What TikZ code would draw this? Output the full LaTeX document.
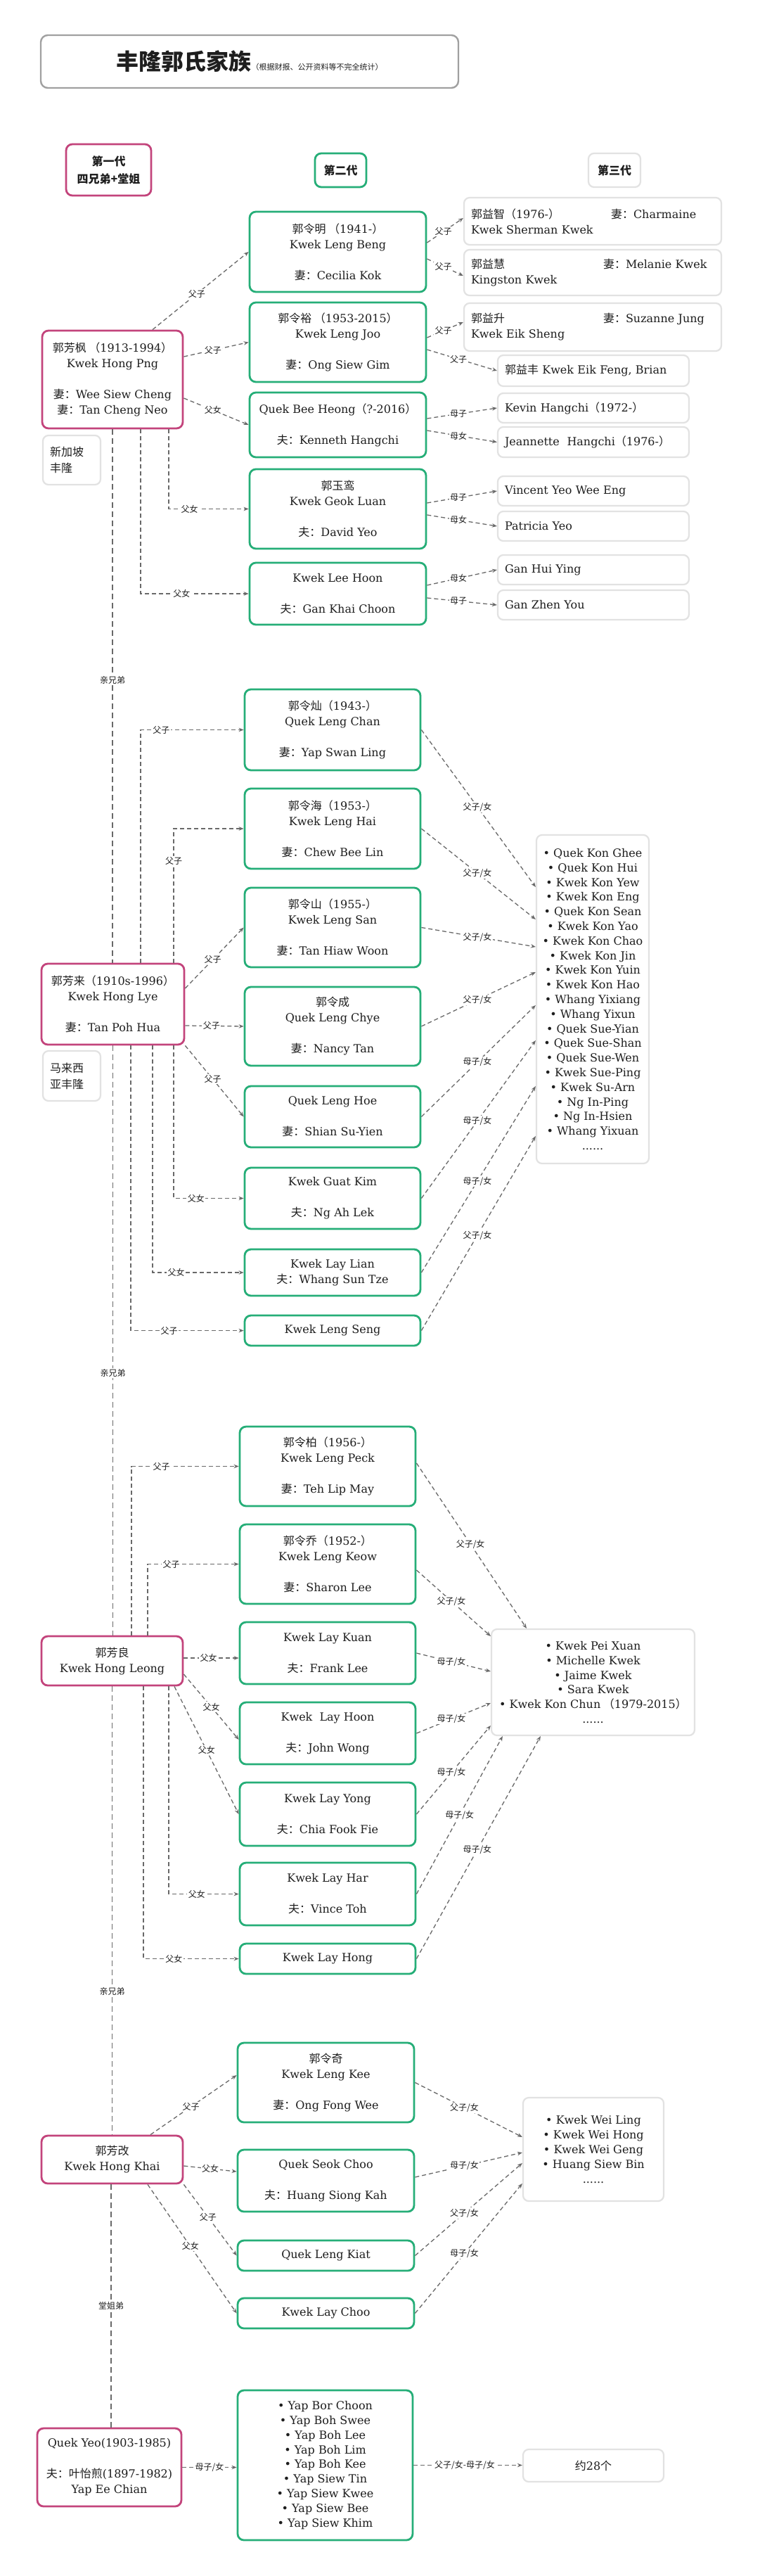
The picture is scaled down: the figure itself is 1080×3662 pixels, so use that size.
\documentclass[tikz,border=0pt]{standalone}
\usepackage{fontspec}
\setmainfont{DejaVu Serif}
\newfontfamily\cjk{Noto Sans CJK SC}
\usetikzlibrary{arrows.meta}
\definecolor{gcol}{RGB}{38,174,120}
\definecolor{mcol}{RGB}{195,68,124}
\definecolor{lcol}{RGB}{105,105,105}
\definecolor{tcol}{RGB}{30,30,30}
\definecolor{bcol}{RGB}{226,226,226}
\definecolor{ttcol}{RGB}{160,160,160}
\newcommand\Z[1]{{\cjk #1}}
\begin{document}
\begin{tikzpicture}[x=1pt,y=-1pt,
  base/.style={font=\fontsize{16}{22}\selectfont, text=tcol, align=center, inner sep=0pt},
  gbox/.style={base, draw=gcol, line width=2.8pt, rounded corners=9pt, fill=white},
  mbox/.style={base, draw=mcol, line width=2.8pt, rounded corners=9pt, fill=white},
  wbox/.style={base, draw=bcol, line width=2.2pt, rounded corners=8pt, fill=white},
  tbox/.style={base, draw=ttcol, line width=2.4pt, rounded corners=10pt, fill=white},
  g2/.style={gbox, minimum width=250pt},
  g3/.style={wbox, align=left},
  lst/.style={font=\fontsize{16}{20.8}\selectfont},
  rel/.style={draw=lcol, line width=1.3pt, dash pattern=on 6pt off 4pt, -{Stealth[length=7pt,width=5.5pt]}},
  sib/.style={draw=lcol, line width=1.3pt, dash pattern=on 8pt off 5pt},
  lab/.style={fill=white, inner sep=1.5pt, font=\cjk\fontsize{12}{12}\selectfont, text=tcol}]
\fill[white] (0,0) rectangle (1080,3662);
\useasboundingbox (0,0) rectangle (1080,3662);

% title and headers
\node[tbox, minimum width=594pt, minimum height=75pt] (title) at (355,87.5)
  {{\cjk\bfseries\fontsize{32}{32}\selectfont 丰隆郭氏家族}{\cjk\fontsize{11}{11}\selectfont （根据财报、公开资料等不完全统计）}};
\node[mbox, minimum width=121pt, minimum height=73pt, font=\cjk\bfseries\fontsize{16}{25}\selectfont] (h1) at (154.5,241.5) {第一代\\四兄弟+堂姐};
\node[gbox, minimum width=73pt, minimum height=48pt, font=\cjk\bfseries\fontsize{16}{22}\selectfont] (h2) at (484.5,242) {第二代};
\node[wbox, minimum width=74pt, minimum height=48pt, font=\cjk\bfseries\fontsize{16}{22}\selectfont] (h3) at (874,242) {第三代};

% first generation
\node[mbox, minimum width=200pt, minimum height=139pt] (A) at (160,539.5)
  {\Z{郭芳枫 （}1913-1994\Z{）}\\Kwek Hong Png\\[22pt]\Z{妻：}Wee Siew Cheng\\\Z{妻：}Tan Cheng Neo};
\node[wbox, minimum width=82pt, minimum height=70pt, align=left, text width=62pt, font=\cjk\fontsize{16}{23}\selectfont] (At) at (102,654) {新加坡\\丰隆};
\node[mbox, minimum width=203pt, minimum height=115pt] (B) at (160.5,1427.5)
  {\Z{郭芳来（}1910s-1996\Z{）}\\Kwek Hong Lye\\[22pt]\Z{妻：}Tan Poh Hua};
\node[wbox, minimum width=82pt, minimum height=71pt, align=left, text width=62pt, font=\cjk\fontsize{16}{23}\selectfont] (Bt) at (102,1529.5) {马来西\\亚丰隆};
\node[mbox, minimum width=201pt, minimum height=70pt] (C) at (159.5,2361) {\Z{郭芳良}\\Kwek Hong Leong};
\node[mbox, minimum width=201pt, minimum height=68pt] (D) at (159.5,3070) {\Z{郭芳改}\\Kwek Hong Khai};
\node[mbox, minimum width=205pt, minimum height=111pt] (E) at (155.5,3507.5)
  {Quek Yeo(1903-1985)\\[22pt]\Z{夫：叶怡煎}(1897-1982)\\Yap Ee Chian};

% sibling line
\draw[sib] (A.south) -- (A.south |- B.north) node[lab, pos=0.47] {亲兄弟};
\draw[sib] (B.south) -- (B.south |- C.north) node[lab, pos=0.555] {亲兄弟};
\draw[sib] (C.south) -- (C.south |- D.north) node[lab, pos=0.68] {亲兄弟};
\draw[sib] ([xshift=-1.5pt]D.south) -- ([xshift=-1.5pt]D.south |- E.north) node[lab, pos=0.5] {堂姐弟};

% ---------- group 1 ----------
\node[g2, minimum width=251pt, minimum height=114pt] (a1) at (480.5,358) {\Z{郭令明 （}1941-\Z{）}\\Kwek Leng Beng\\[22pt]\Z{妻：}Cecilia Kok};
\node[g2, minimum width=251pt, minimum height=113pt] (a2) at (480.5,486.5) {\Z{郭令裕 （}1953-2015\Z{）}\\Kwek Leng Joo\\[22pt]\Z{妻：}Ong Siew Gim};
\node[g2, minimum width=251pt, minimum height=92pt] (a3) at (480.5,604) {Quek Bee Heong\Z{（}?-2016\Z{）}\\[22pt]\Z{夫：}Kenneth Hangchi};
\node[g2, minimum width=251pt, minimum height=113pt] (a4) at (480.5,723.5) {\Z{郭玉鸾}\\Kwek Geok Luan\\[22pt]\Z{夫：}David Yeo};
\node[g2, minimum width=251pt, minimum height=88pt] (a5) at (480.5,844) {Kwek Lee Hoon\\[22pt]\Z{夫：}Gan Khai Choon};

\node[g3, minimum width=366pt, minimum height=67pt, text width=346pt] (t1) at (843,314.5) {\makebox[199pt][l]{\Z{郭益智（}1976-\Z{）}}\Z{妻：}Charmaine\\Kwek Sherman Kwek};
\node[g3, minimum width=366pt, minimum height=65pt, text width=346pt] (t2) at (843,387.5) {\makebox[188pt][l]{\Z{郭益慧}}\Z{妻：}Melanie Kwek\\Kingston Kwek};
\node[g3, minimum width=366pt, minimum height=68pt, text width=346pt] (t3) at (843,465) {\makebox[188pt][l]{\Z{郭益升}}\Z{妻：}Suzanne Jung\\Kwek Eik Sheng};
\node[g3, minimum width=272pt, minimum height=44pt, text width=252pt] (t4) at (844,527) {\Z{郭益丰} Kwek Eik Feng, Brian};
\node[g3, minimum width=272pt, minimum height=42pt, text width=252pt] (t5) at (844,580) {Kevin Hangchi\Z{（}1972-\Z{）}};
\node[g3, minimum width=272pt, minimum height=43pt, text width=252pt] (t6) at (844,628.5) {Jeannette\ \ Hangchi\Z{（}1976-\Z{）}};
\node[g3, minimum width=272pt, minimum height=42pt, text width=252pt] (t7) at (844,698) {Vincent Yeo Wee Eng};
\node[g3, minimum width=272pt, minimum height=42pt, text width=252pt] (t8) at (844,748) {Patricia Yeo};
\node[g3, minimum width=272pt, minimum height=42pt, text width=252pt] (t9) at (844,810) {Gan Hui Ying};
\node[g3, minimum width=272pt, minimum height=42pt, text width=252pt] (t10) at (844,860) {Gan Zhen You};

\draw[rel] ([xshift=57pt]A.north) -- (a1.west) node[lab, pos=0.46] {父子};
\draw[rel] ([yshift=32.5pt]A.east) -- (a2.west) node[lab, pos=0.45] {父子};
\draw[rel] ([yshift=-26.5pt]A.east) -- (a3.west) node[lab, pos=0.45] {父女};
\draw[rel] ([xshift=80pt]A.south) |- (a4.west) node[lab, pos=0.63] {父女};
\draw[rel] ([xshift=40pt]A.south) |- (a5.west) node[lab, pos=0.69] {父女};

\draw[rel] ([yshift=13pt]a1.east) -- ([yshift=4.5pt]t1.west) node[lab, pos=0.45] {父子};
\draw[rel] ([yshift=-10pt]a1.east) -- ([yshift=-4.5pt]t2.west) node[lab, pos=0.45] {父子};
\draw[rel] ([yshift=6.5pt]a2.east) -- ([yshift=7pt]t3.west) node[lab, pos=0.45] {父子};
\draw[rel] ([yshift=-10.5pt]a2.east) -- (t4.west) node[lab, pos=0.45] {父子};
\draw[rel] ([yshift=9pt]a3.east) -- (t5.west) node[lab, pos=0.45] {母子};
\draw[rel] ([yshift=-8pt]a3.east) -- (t6.west) node[lab, pos=0.45] {母女};
\draw[rel] ([yshift=8.5pt]a4.east) -- (t7.west) node[lab, pos=0.45] {母子};
\draw[rel] ([yshift=-8.5pt]a4.east) -- (t8.west) node[lab, pos=0.45] {母女};
\draw[rel] ([yshift=12pt]a5.east) -- (t9.west) node[lab, pos=0.45] {母女};
\draw[rel] ([yshift=-6pt]a5.east) -- (t10.west) node[lab, pos=0.45] {母子};

% ---------- group 2 ----------
\node[g2, minimum height=115pt] (b1) at (473,1037.5) {\Z{郭令灿（}1943-\Z{）}\\Quek Leng Chan\\[22pt]\Z{妻：}Yap Swan Ling};
\node[g2, minimum height=114pt] (b2) at (473,1178) {\Z{郭令海（}1953-\Z{）}\\Kwek Leng Hai\\[22pt]\Z{妻：}Chew Bee Lin};
\node[g2, minimum height=113pt] (b3) at (473,1318.5) {\Z{郭令山（}1955-\Z{）}\\Kwek Leng San\\[22pt]\Z{妻：}Tan Hiaw Woon};
\node[g2, minimum height=112pt] (b4) at (473,1459) {\Z{郭令成}\\Quek Leng Chye\\[22pt]\Z{妻：}Nancy Tan};
\node[g2, minimum height=87pt] (b5) at (473,1587.5) {Quek Leng Hoe\\[22pt]\Z{妻：}Shian Su-Yien};
\node[g2, minimum height=87pt] (b6) at (473,1703.5) {Kwek Guat Kim\\[22pt]\Z{夫：}Ng Ah Lek};
\node[g2, minimum height=66pt] (b7) at (473,1809) {Kwek Lay Lian\\\Z{夫：}Whang Sun Tze};
\node[g2, minimum height=43pt] (b8) at (473,1891.5) {Kwek Leng Seng};

\node[wbox, minimum width=160pt, minimum height=467pt, lst] (L2) at (843,1420.5)
  {• Quek Kon Ghee\\• Quek Kon Hui\\• Kwek Kon Yew\\• Kwek Kon Eng\\• Quek Kon Sean\\• Kwek Kon Yao\\• Kwek Kon Chao\\• Kwek Kon Jin\\• Kwek Kon Yuin\\• Kwek Kon Hao\\• Whang Yixiang\\• Whang Yixun\\• Quek Sue-Yian\\• Quek Sue-Shan\\• Quek Sue-Wen\\• Kwek Sue-Ping\\• Kwek Su-Arn\\• Ng In-Ping\\• Ng In-Hsien\\• Whang Yixuan\\......};

\draw[rel] ([xshift=39.5pt]B.north) |- (b1.west) node[lab, pos=0.6] {父子};
\draw[rel] ([xshift=86.5pt]B.north) |- (b2.west) node[lab, pos=0.38] {父子};
\draw[rel] ([yshift=22.5pt]B.east) -- (b3.west) node[lab, pos=0.47] {父子};
\draw[rel] ([yshift=-30.5pt]B.east) -- (b4.west) node[lab, pos=0.45] {父子};
\draw[rel] (B.south east) -- (b5.west) node[lab, pos=0.47] {父子};
\draw[rel] ([xshift=86.5pt]B.south) |- (b6.west) node[lab, pos=0.66] {父女};
\draw[rel] ([xshift=56.5pt]B.south) |- (b7.west) node[lab, pos=0.63] {父女};
\draw[rel] ([xshift=25.5pt]B.south) |- (b8.west) node[lab, pos=0.67] {父子};

\draw[rel] (b1.east) -- ([yshift=159.5pt]L2.west) node[lab, pos=0.49] {父子/女};
\draw[rel] (b2.east) -- ([yshift=113.5pt]L2.west) node[lab, pos=0.49] {父子/女};
\draw[rel] (b3.east) -- ([yshift=74.5pt]L2.west) node[lab, pos=0.49] {父子/女};
\draw[rel] (b4.east) -- ([yshift=38.5pt]L2.west) node[lab, pos=0.49] {父子/女};
\draw[rel] (b5.east) -- ([yshift=-8.5pt]L2.west) node[lab, pos=0.49] {母子/女};
\draw[rel] (b6.east) -- ([yshift=-58.5pt]L2.west) node[lab, pos=0.49] {母子/女};
\draw[rel] (b7.east) -- ([yshift=-123.5pt]L2.west) node[lab, pos=0.49] {母子/女};
\draw[rel] (b8.east) -- ([yshift=-194.5pt]L2.west) node[lab, pos=0.49] {父子/女};

% ---------- group 3 ----------
\node[g2, minimum height=113pt] (c1) at (466,2084.5) {\Z{郭令柏（}1956-\Z{）}\\Kwek Leng Peck\\[22pt]\Z{妻：}Teh Lip May};
\node[g2, minimum height=113pt] (c2) at (466,2223.5) {\Z{郭令乔（}1952-\Z{）}\\Kwek Leng Keow\\[22pt]\Z{妻：}Sharon Lee};
\node[g2, minimum height=88pt] (c3) at (466,2350) {Kwek Lay Kuan\\[22pt]\Z{夫：}Frank Lee};
\node[g2, minimum height=88pt] (c4) at (466,2464) {Kwek\ \ Lay Hoon\\[22pt]\Z{夫：}John Wong};
\node[g2, minimum height=90pt] (c5) at (466,2579) {Kwek Lay Yong\\[22pt]\Z{夫：}Chia Fook Fie};
\node[g2, minimum height=89pt] (c6) at (466,2692.5) {Kwek Lay Har\\[22pt]\Z{夫：}Vince Toh};
\node[g2, minimum height=43pt] (c7) at (466,2784.5) {Kwek Lay Hong};

\node[wbox, minimum width=289pt, minimum height=151pt, lst] (L3) at (843.5,2391.5)
  {• Kwek Pei Xuan\\• Michelle Kwek\\• Jaime Kwek\\• Sara Kwek\\• Kwek Kon Chun\Z{ （}1979-2015\Z{）}\\......};

\draw[rel] ([xshift=27.5pt]C.north) |- (c1.west) node[lab, pos=0.64] {父子};
\draw[rel] ([xshift=50.5pt]C.north) |- (c2.west) node[lab, pos=0.63] {父子};
\draw[rel] ([yshift=4pt]C.east) -- ([yshift=-7pt]c3.west) node[lab, pos=0.45] {父女};
\draw[rel] ([yshift=-19pt]C.east) -- ([yshift=-9pt]c4.west) node[lab, pos=0.5] {父女};
\draw[rel] ([xshift=88.5pt]C.south) -- (c5.west) node[lab, pos=0.5] {父女};
\draw[rel] ([xshift=80.5pt]C.south) |- (c6.west) node[lab, pos=0.7] {父女};
\draw[rel] ([xshift=44.5pt]C.south) |- (c7.west) node[lab, pos=0.66] {父女};

\draw[rel] ([yshift=4.5pt]c1.east) -- ([xshift=-94.5pt]L3.north) node[lab, pos=0.49] {父子/女};
\draw[rel] ([yshift=-8.5pt]c2.east) -- ([yshift=65.5pt]L3.west) node[lab, pos=0.47] {父子/女};
\draw[rel] (c3.east) -- ([yshift=15.5pt]L3.west) node[lab, pos=0.47] {母子/女};
\draw[rel] (c4.east) -- ([yshift=-29.5pt]L3.west) node[lab, pos=0.47] {母子/女};
\draw[rel] (c5.east) -- ([yshift=-61.5pt]L3.west) node[lab, pos=0.47] {母子/女};
\draw[rel] (c6.east) -- ([xshift=17pt]L3.south west) node[lab, pos=0.5] {母子/女};
\draw[rel] (c7.east) -- ([xshift=71pt]L3.south west) node[lab, pos=0.49] {母子/女};

% ---------- group 4 ----------
\node[g2, minimum width=251pt, minimum height=113pt] (d1) at (463.5,2960.5) {\Z{郭令奇}\\Kwek Leng Kee\\[22pt]\Z{妻：}Ong Fong Wee};
\node[g2, minimum width=251pt, minimum height=88pt] (d2) at (463.5,3100) {Quek Seok Choo\\[22pt]\Z{夫：}Huang Siong Kah};
\node[g2, minimum width=251pt, minimum height=43pt] (d3) at (463.5,3206.5) {Quek Leng Kiat};
\node[g2, minimum width=251pt, minimum height=43pt] (d4) at (463.5,3288.5) {Kwek Lay Choo};

\node[wbox, minimum width=200pt, minimum height=147pt, lst] (L4) at (844,3055.5)
  {• Kwek Wei Ling\\• Kwek Wei Hong\\• Kwek Wei Geng\\• Huang Siew Bin\\......};

\draw[rel] ([xshift=54.5pt]D.north) -- ([yshift=10.5pt]d1.west) node[lab, pos=0.47] {父子};
\draw[rel] ([yshift=-9pt]D.east) -- ([yshift=13pt]d2.west) node[lab, pos=0.5] {父女};
\draw[rel] (D.south east) -- (d3.west) node[lab, pos=0.46] {父子};
\draw[rel] ([xshift=50.5pt]D.south) -- (d4.west) node[lab, pos=0.48] {父女};

\draw[rel] (d1.east) -- ([yshift=17.5pt]L4.west) node[lab, pos=0.46] {父子/女};
\draw[rel] ([yshift=5pt]d2.east) -- ([yshift=-4.5pt]L4.west) node[lab, pos=0.46] {母子/女};
\draw[rel] (d3.east) -- ([yshift=-19.5pt]L4.west) node[lab, pos=0.46] {父子/女};
\draw[rel] (d4.east) -- ([yshift=-48.5pt]L4.west) node[lab, pos=0.46] {母子/女};

% ---------- group 5 ----------
\node[g2, minimum width=249pt, minimum height=213pt, lst] (e1) at (462.5,3504.5)
  {• Yap Bor Choon\\• Yap Boh Swee\\• Yap Boh Lee\\• Yap Boh Lim\\• Yap Boh Kee\\• Yap Siew Tin\\• Yap Siew Kwee\\• Yap Siew Bee\\• Yap Siew Khim};
\node[wbox, minimum width=200pt, minimum height=46pt] (e2) at (844,3505) {\Z{约}28\Z{个}};

\draw[rel] (E.east) -- (E.east -| e1.west) node[lab, pos=0.5] {母子/女};
\draw[rel] (e1.east) -- (e1.east -| e2.west) node[lab, pos=0.47] {父子/女-母子/女};
\end{tikzpicture}
\end{document}
